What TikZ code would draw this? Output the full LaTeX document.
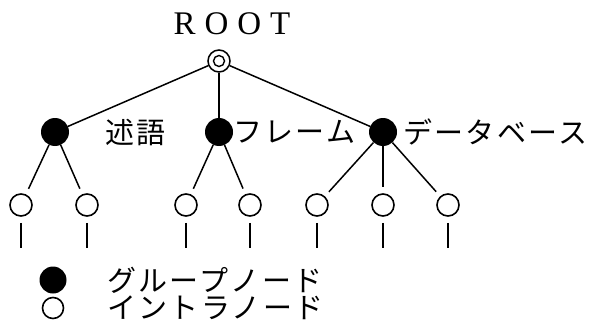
\documentclass[tikz,border=0pt]{standalone}
\usepackage{fontspec}
\newfontfamily\jp[LetterSpace=8]{Noto Sans CJK JP}
\newfontfamily\rootfont{Liberation Serif}
\begin{document}
\begin{tikzpicture}[x=1pt,y=-1pt,
  group/.style={circle,fill=black,minimum size=28pt,inner sep=0pt},
  intra/.style={circle,draw,line width=1.6pt,minimum width=22pt,minimum height=22pt,inner sep=0pt},
  rootnode/.style={circle,draw,line width=1.5pt,minimum size=22pt,inner sep=0pt},
  edge/.style={line width=1.5pt},
  jptext/.style={font=\jp\fontsize{29}{32}\selectfont,inner sep=0pt},
  stub/.style={line width=1.5pt}]
\useasboundingbox (0,0) rectangle (594,329);
\clip (0,0) rectangle (594,329);
% root
\node[font=\rootfont\fontsize{33}{35}\selectfont,anchor=base,inner sep=0pt] (roottext) at (232,35) {R\hspace{9pt}O\hspace{9pt}O\hspace{9pt}T};
\node[rootnode] (root) at (219,61) {};
\node[circle,draw,line width=1.4pt,minimum size=11pt,inner sep=0pt] (rootin) at (219,61) {};
% groups
\node[group] (g1) at (55,132) {};
\node[group] (g2) at (219,132) {};
\node[group] (g3) at (383,132) {};
\node[jptext,anchor=west] (l1) at (105,132) {述語};
\node[jptext,anchor=west] (l2) at (233,132) {フレーム};
\node[jptext,anchor=west] (l3) at (403,132) {データベース};
% intra nodes
\node[intra] (i1) at (21,205) {};
\node[intra] (i2) at (87,205) {};
\node[intra] (i3) at (186,205) {};
\node[intra] (i4) at (250,205) {};
\node[intra] (i5) at (317,205) {};
\node[intra] (i6) at (383,205) {};
\node[intra] (i7) at (448,205) {};
% edges
\draw[edge] (root) -- (g1);
\draw[edge] (root) -- (g2);
\draw[edge] (root) -- (g3);
\draw[edge,shorten >=6pt] (g1) -- (i1);
\draw[edge,shorten >=6pt] (g1) -- (i2);
\draw[edge,shorten >=6pt] (g2) -- (i3);
\draw[edge,shorten >=6pt] (g2) -- (i4);
\draw[edge,shorten >=6pt] (g3) -- (i5);
\draw[edge,shorten >=6pt] (g3) -- (i6);
\draw[edge,shorten >=6pt] (g3) -- (i7);
% stubs
\foreach \n in {i1,i2,i3,i4,i5,i6,i7}{
  \draw[stub] ([yshift=-6pt]\n.south) -- ++(0pt,-25pt);
}
% legend
\node[group,minimum size=27pt] (lg) at (53,280) {};
\node[intra,minimum width=21pt,minimum height=21pt] (li) at (53,308) {};
\node[jptext,anchor=west] (lgt) at (107,280) {グループノード};
\node[jptext,anchor=west] (lit) at (107,308) {イントラノード};
\end{tikzpicture}
\end{document}
